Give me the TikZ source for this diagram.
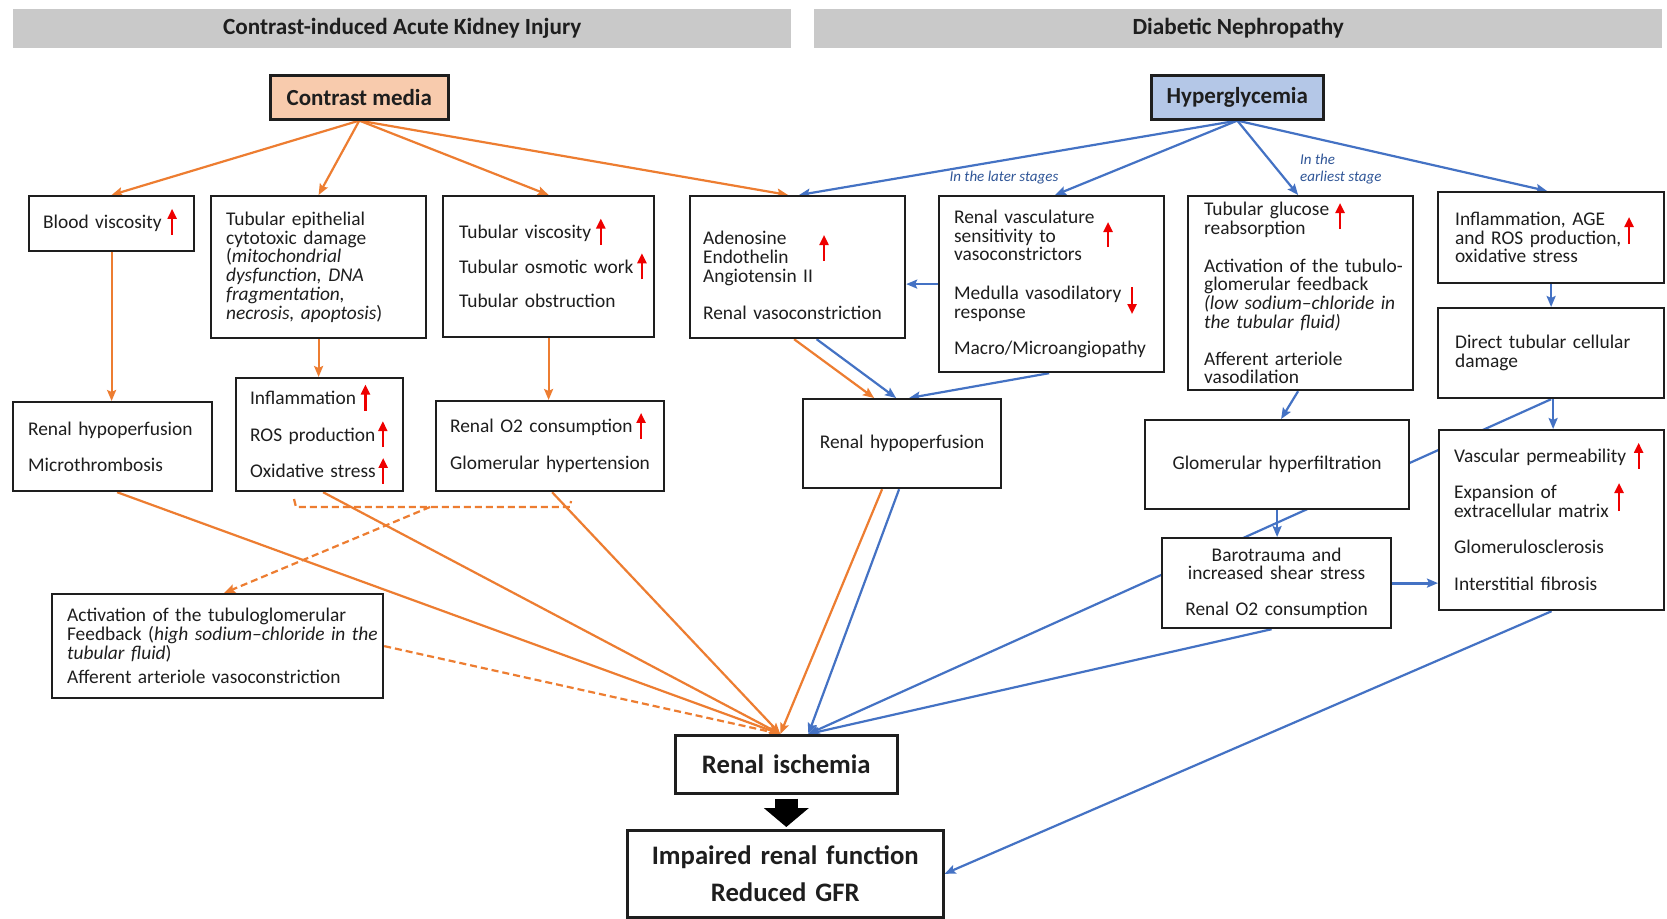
\documentclass[tikz,border=0pt]{standalone}
\usepackage{fontspec}
\setmainfont{Carlito}
\usetikzlibrary{arrows.meta,calc}
\pgfdeclarelayer{bg}
\pgfsetlayers{bg,main}
\definecolor{cOrange}{HTML}{ED7D31}
\definecolor{cBlue}{HTML}{4472C4}
\definecolor{cPeach}{HTML}{F8CBAD}
\definecolor{cLBlue}{HTML}{B4C7E7}
\definecolor{cHdr}{HTML}{C9C9C9}
\definecolor{cRed}{HTML}{EE0000}
\definecolor{cLbl}{HTML}{2F5597}
\definecolor{cInk}{HTML}{1E1E1E}
\setlength{\lineskiplimit}{-100pt}
\setlength{\lineskip}{0pt}
\newcommand{\bodyf}{\fontsize{19.4}{18.7}\selectfont}
\newcommand{\hdrf}{\fontsize{23.2}{24}\selectfont\bfseries}
\newcommand{\srcf}{\fontsize{23}{24}\selectfont\bfseries}
\newcommand{\bigf}{\fontsize{26.7}{27}\selectfont\bfseries}
\newcommand{\lblf}{\fontsize{15}{17}\selectfont\itshape}
\tikzset{
  redarr/.style={draw=cRed, line width=2.3pt, -{Triangle[length=10pt,width=9pt]}},
  oarr/.style={draw=cOrange, line width=2.2pt, -{Stealth[length=11pt,width=9pt,inset=2pt]}},
  barr/.style={draw=cBlue, line width=2.2pt, -{Stealth[length=11pt,width=9pt,inset=2pt]}},
  oline/.style={draw=cOrange, line width=2.2pt},
  hdr/.style={anchor=north west, fill=cHdr, font=\hdrf, text=cInk, inner sep=0pt},
  src/.style={anchor=north west, draw=cInk, line width=2.6pt, font=\srcf, text=cInk, inner sep=0pt},
  bx/.style={anchor=north west, draw=cInk, line width=2.2pt, fill=white, font=\bodyf, text=cInk, inner ysep=0pt, align=left},
  cbx/.style={anchor=north west, draw=cInk, line width=2.2pt, fill=white, font=\bodyf, text=cInk, inner ysep=0pt, align=center},
  lbl/.style={font=\lblf, text=cLbl, inner sep=0pt}
}
\newcommand{\upar}{\smash{\tikz[baseline=0pt]\draw[redarr] (0pt,-6pt) -- (0pt,20pt);}}
\begin{document}
\begin{tikzpicture}[x=1pt,y=-1pt]
\useasboundingbox (0,0) rectangle (1667,918);

% headers
\node[hdr, minimum width=778, minimum height=39.5] (hl) at (13,8.5) {Contrast-induced Acute Kidney Injury};
\node[hdr, minimum width=848, minimum height=39.5] (hr) at (814,8.5) {Diabetic Nephropathy};

% sources
\node[src, fill=cPeach, minimum width=178, minimum height=44] (cm) at (269,74) {Contrast media};
\node[src, fill=cLBlue, minimum width=172, minimum height=44] (hg) at (1150,74) {Hyperglycemia};

% row 1
\node[bx, minimum width=165, minimum height=55, inner xsep=14, text width=137] (bv) at (28,195)
  {\mbox{Blood viscosity\hspace{6pt}\upar}};
\node[bx, minimum width=215, minimum height=142, inner xsep=15, text width=185] (te) at (210,195)
  {\mbox{Tubular epithelial}\\\mbox{cytotoxic damage}\\(\textit{mitochondrial}\\\mbox{\textit{dysfunction, DNA}}\\\textit{fragmentation,}\\\mbox{\textit{necrosis, apoptosis}})};
\node[bx, minimum width=211, minimum height=141, inner xsep=16, text width=179] (tv) at (442,195)
  {\mbox{Tubular viscosity\hspace{5pt}\upar}\\[16pt]\mbox{Tubular osmotic work\hspace{4pt}\upar}\\[16pt]\mbox{Tubular obstruction}};
\node[bx, minimum width=215, minimum height=142, inner xsep=13, text width=189] (ad) at (689,195)
  {\rule{0pt}{30pt}Adenosine\\Endothelin\\\mbox{Angiotensin II}\\[18pt]\mbox{Renal vasoconstriction}};
\node[bx, minimum width=225, minimum height=176, inner xsep=15, text width=195] (rv) at (938,195)
  {\mbox{Renal vasculature}\\\mbox{sensitivity to}\\vasoconstrictors\\[20pt]\mbox{Medulla vasodilatory}\\response\\[18pt]Macro/Microangiopathy};
\node[bx, minimum width=225, minimum height=194, inner xsep=16, text width=193] (tg) at (1187,195)
  {\mbox{Tubular glucose}\\reabsorption\\[19pt]\mbox{Activation of the tubulo-}\\\mbox{glomerular feedback}\\\mbox{\textit{(low sodium–chloride in}}\\\mbox{\textit{the tubular fluid)}}\\[18pt]\mbox{Afferent arteriole}\\vasodilation};
\node[bx, minimum width=226, minimum height=91, inner xsep=17, text width=192] (ia) at (1437,191)
  {\mbox{Inflammation, AGE}\\\mbox{and ROS production,}\\\mbox{oxidative stress}};
\node[bx, minimum width=226, minimum height=90, inner xsep=17, text width=192] (dt) at (1437,307)
  {\mbox{Direct tubular cellular}\\damage};

% row 2
\node[bx, minimum width=199, minimum height=89, inner xsep=15, text width=169] (rh1) at (12,401)
  {\mbox{Renal hypoperfusion}\\[17pt]Microthrombosis};
\node[bx, minimum width=167, minimum height=113, inner xsep=14, text width=139] (inf) at (235,377)
  {\mbox{Inflammation\hspace{5pt}\upar}\\[18pt]\mbox{ROS production\hspace{3pt}\upar}\\[18pt]\mbox{Oxidative stress\hspace{3pt}\upar}};
\node[bx, minimum width=228, minimum height=90, inner xsep=14, text width=200] (ro) at (435,400)
  {\mbox{Renal O2 consumption\hspace{4pt}\upar}\\[18pt]\mbox{Glomerular hypertension}};
\node[cbx, minimum width=198, minimum height=89, inner xsep=14, text width=170] (rh2) at (802,398)
  {\mbox{Renal hypoperfusion}};
\node[cbx, minimum width=264, minimum height=89, inner xsep=14, text width=236] (gh) at (1144,419)
  {\mbox{Glomerular hyperfiltration}};
\node[bx, minimum width=225, minimum height=180, inner xsep=15, text width=195] (vp) at (1438,429)
  {\mbox{Vascular permeability\hspace{8pt}\upar}\\[17pt]\mbox{Expansion of}\\\mbox{extracellular matrix}\\[18pt]Glomerulosclerosis\\[18pt]\mbox{Interstitial fibrosis}};
\node[cbx, minimum width=229, minimum height=90, inner xsep=14, text width=201] (bt) at (1161,537)
  {\mbox{Barotrauma and}\\\mbox{increased shear stress}\\[17pt]\mbox{Renal O2 consumption}};
\node[bx, minimum width=331, minimum height=104, inner xsep=15, text width=301] (act) at (51,593)
  {\mbox{Activation of the tubuloglomerular}\\\mbox{Feedback (\textit{high sodium–chloride in the}}\\\mbox{\textit{tubular fluid}})\\[6pt]\mbox{Afferent arteriole vasoconstriction}};

% outcomes
\node[cbx, line width=2.6pt, font=\bigf, minimum width=222, minimum height=58, inner xsep=10, text width=202] (ri) at (674,734)
  {Renal ischemia};
\node[cbx, line width=2.6pt, font=\bigf, minimum width=316, minimum height=87, inner xsep=10, text width=296] (ir) at (626,829)
  {\mbox{Impaired renal function}\\[10pt]Reduced GFR};

% labels
\node[lbl] (l1) at (1004,178) {In the later stages};
\node[lbl, anchor=west, align=left] (l2) at (1300,169) {In the\\earliest stage};

% red arrows spanning lines
\draw[redarr] (824,261) -- (824,235);
\draw[redarr] (1108,247) -- (1108,222);
\draw[redarr] (1132,287) -- (1132,314);
\draw[redarr] (1340,229) -- (1340,203);
\draw[redarr] (1629,244) -- (1629,217);
\draw[redarr] (1619,511) -- (1619,483);

% big black arrow
\draw[draw=black, line width=23pt, -{Triangle[length=19pt,width=44pt]}, shorten <=4pt, shorten >=2pt]
  (ri.south) -- (ri.south |- ir.north);

\begin{pgfonlayer}{bg}
\fill[white] (0,0) rectangle (1667,918);
\coordinate (riO) at ([xshift=-6pt]ri.north);
\coordinate (riB) at ([xshift=22pt]ri.north);
% orange
\draw[oarr] (cm.south) -- (bv.north);
\draw[oarr] (cm.south) -- (te.north);
\draw[oarr] (cm.south) -- (tv.north);
\draw[oarr] (cm.south) -- ([xshift=-9.5pt]ad.north);
\draw[oarr] (bv.south) -- (bv.south |- rh1.north);
\draw[oarr] (te.south) -- (te.south |- inf.north);
\draw[oarr] (tv.south) -- (tv.south |- ro.north);
\draw[oarr] ([xshift=-3.5pt]ad.south) -- ([xshift=-28pt]rh2.north);
\draw[oarr] ([xshift=4.5pt]rh1.south) -- (riO);
\draw[oarr] ([xshift=3.5pt]inf.south) -- (riO);
\draw[oarr] ([xshift=2pt]ro.south) -- (riO);
\draw[oarr] ([xshift=-20pt]rh2.south) -- (riO);
\coordinate (brL) at (296,507);
\coordinate (brR) at (570,507);
\coordinate (brM) at (430,507);
\draw[oline, dash pattern=on 7pt off 4pt] (294,499) -- (brL) -- (brR) -- (571,501);
\draw[oarr, dash pattern=on 7pt off 4pt] (brM) -- ([xshift=6.5pt]act.north);
\draw[oarr, dash pattern=on 7pt off 4pt] (act.east) -- (riO);
% blue
\draw[barr] (hg.south) -- ([xshift=1.5pt]ad.north);
\draw[barr] (hg.south) -- ([xshift=3.5pt]rv.north);
\draw[barr] (hg.south) -- ([xshift=-2.5pt]tg.north);
\draw[barr] (hg.south) -- ([xshift=-4pt]ia.north);
\draw[barr] (rv.west) -- (rv.west -| ad.east);
\draw[barr] ([xshift=19pt]ad.south) -- ([xshift=-6pt]rh2.north);
\draw[barr] ([xshift=-2.5pt]rv.south) -- ([xshift=7pt]rh2.north);
\draw[barr] ([xshift=-3pt]rh2.south) -- (riB);
\draw[barr] (dt.south) -- (riB);
\draw[barr] ([xshift=-2.5pt]tg.south) -- ([xshift=4pt]gh.north);
\draw[barr] (gh.south) -- (gh.south |- bt.north);
\draw[barr] (ia.south) -- (ia.south |- dt.north);
\draw[barr] ([xshift=2pt]dt.south) -- ([xshift=2pt]dt.south |- vp.north);
\draw[barr, line width=3pt] (bt.east) -- (bt.east -| vp.west);
\draw[barr] ([xshift=-5pt]bt.south) -- (riB);
\draw[barr] (vp.south) -- (ir.east);
\end{pgfonlayer}
\end{tikzpicture}
\end{document}
